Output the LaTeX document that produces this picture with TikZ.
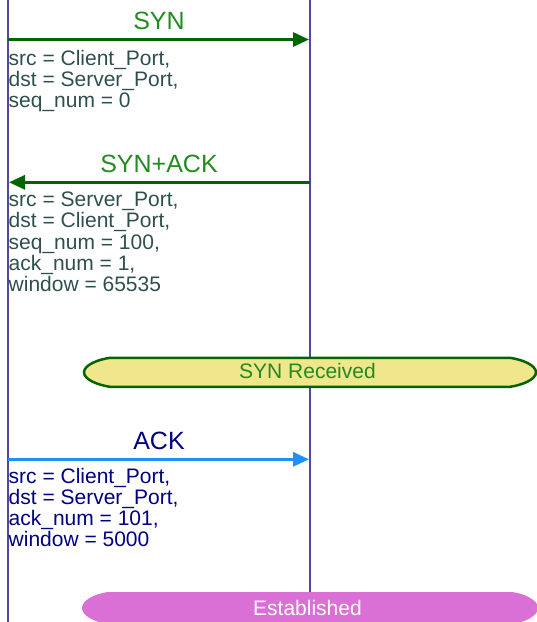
\documentclass[tikz,border=0pt]{standalone}
\usepackage{fontspec}
\setmainfont{Liberation Sans}
\usetikzlibrary{arrows.meta}

\definecolor{lifelinecol}{RGB}{84,70,160}
\definecolor{synline}{HTML}{006400}
\definecolor{syntext}{HTML}{228B22}
\definecolor{fieldgray}{HTML}{2F4F4F}
\definecolor{acktext}{HTML}{000080}
\definecolor{ackline}{HTML}{1E90FF}
\definecolor{rcvfill}{HTML}{F0E68C}
\definecolor{estfill}{HTML}{DA70D6}

% stacked header fields, first baseline is the box baseline
\newcommand\msglines[1]{\vtop{\baselineskip=21.2pt\lineskiplimit=-100pt\lineskip=0pt\halign{##\hfil\cr#1\crcr}}}

\begin{document}
\begin{tikzpicture}[x=1pt,y=-1pt,
  lifeline/.style={draw=lifelinecol,line width=2pt},
  msgarrow/.style={line width=3pt,-{Triangle[length=16pt,width=14pt]}},
  msgtitle/.style={anchor=base,inner sep=0pt,font=\fontsize{25}{25}\selectfont},
  fields/.style={anchor=base west,inner sep=0pt,font=\fontsize{21}{21.2}\selectfont},
  statetext/.style={anchor=base,inner sep=0pt,font=\fontsize{21}{21}\selectfont}]
\useasboundingbox (0,0) rectangle (537,622);

% lifelines of client (left) and server (right)
\coordinate (clientTop) at (8,0);
\coordinate (clientBot) at (8,622);
\coordinate (serverTop) at (310,0);
\coordinate (serverBot) at (310,592);
\draw[lifeline] (clientTop) -- (clientBot);
\draw[lifeline] (serverTop) -- (serverBot);

% SYN
\coordinate (synFrom) at (8,39.5);
\coordinate (synTo) at (309,39.5);
\draw[msgarrow,draw=synline,fill=synline] (synFrom) -- (synTo);
\node[msgtitle,text=syntext] (synTitle) at (159,29.5) {SYN};
\node[fields,text=fieldgray] (synFields) at (8.5,65)
  {\msglines{src = Client\_Port,\cr dst = Server\_Port,\cr seq\_num = 0}};

% SYN+ACK
\coordinate (synackFrom) at (310,182.3);
\coordinate (synackTo) at (9,182.3);
\draw[msgarrow,draw=synline,fill=synline] (synackFrom) -- (synackTo);
\node[msgtitle,text=syntext] (synackTitle) at (159,172.3) {SYN+ACK};
\node[fields,text=fieldgray] (synackFields) at (8.5,206.7)
  {\msglines{src = Server\_Port,\cr dst = Client\_Port,\cr seq\_num = 100,\cr ack\_num = 1,\cr window = 65535}};

% SYN Received state
\path[draw=synline,line width=2.5pt,fill=rcvfill]
  (110,357.8) -- (510,357.8)
  .. controls (522,359.5) and (536,365) .. (536,372.3)
  .. controls (536,379.6) and (522,385.1) .. (510,386.8)
  -- (110,386.8)
  .. controls (98,385.1) and (84,379.6) .. (84,372.3)
  .. controls (84,365) and (98,359.5) .. (110,357.8) -- cycle;
\node[statetext,text=syntext] (rcvState) at (307.5,378.3) {SYN Received};

% ACK
\coordinate (ackFrom) at (8,459.3);
\coordinate (ackTo) at (309,459.3);
\draw[msgarrow,draw=ackline,fill=ackline] (ackFrom) -- (ackTo);
\node[msgtitle,text=acktext] (ackTitle) at (159,449.3) {ACK};
\node[fields,text=acktext] (ackFields) at (8.5,483.3)
  {\msglines{src = Client\_Port,\cr dst = Server\_Port,\cr ack\_num = 101,\cr window = 5000}};

% Established state
\path[fill=estfill]
  (108,592) -- (512,592)
  .. controls (525,593.8) and (538,600) .. (538,608)
  .. controls (538,616) and (525,622.2) .. (512,624)
  -- (108,624)
  .. controls (95,622.2) and (82,616) .. (82,608)
  .. controls (82,600) and (95,593.8) .. (108,592) -- cycle;
\node[statetext,text=white] (estState) at (307.5,615) {Established};
\end{tikzpicture}
\end{document}
